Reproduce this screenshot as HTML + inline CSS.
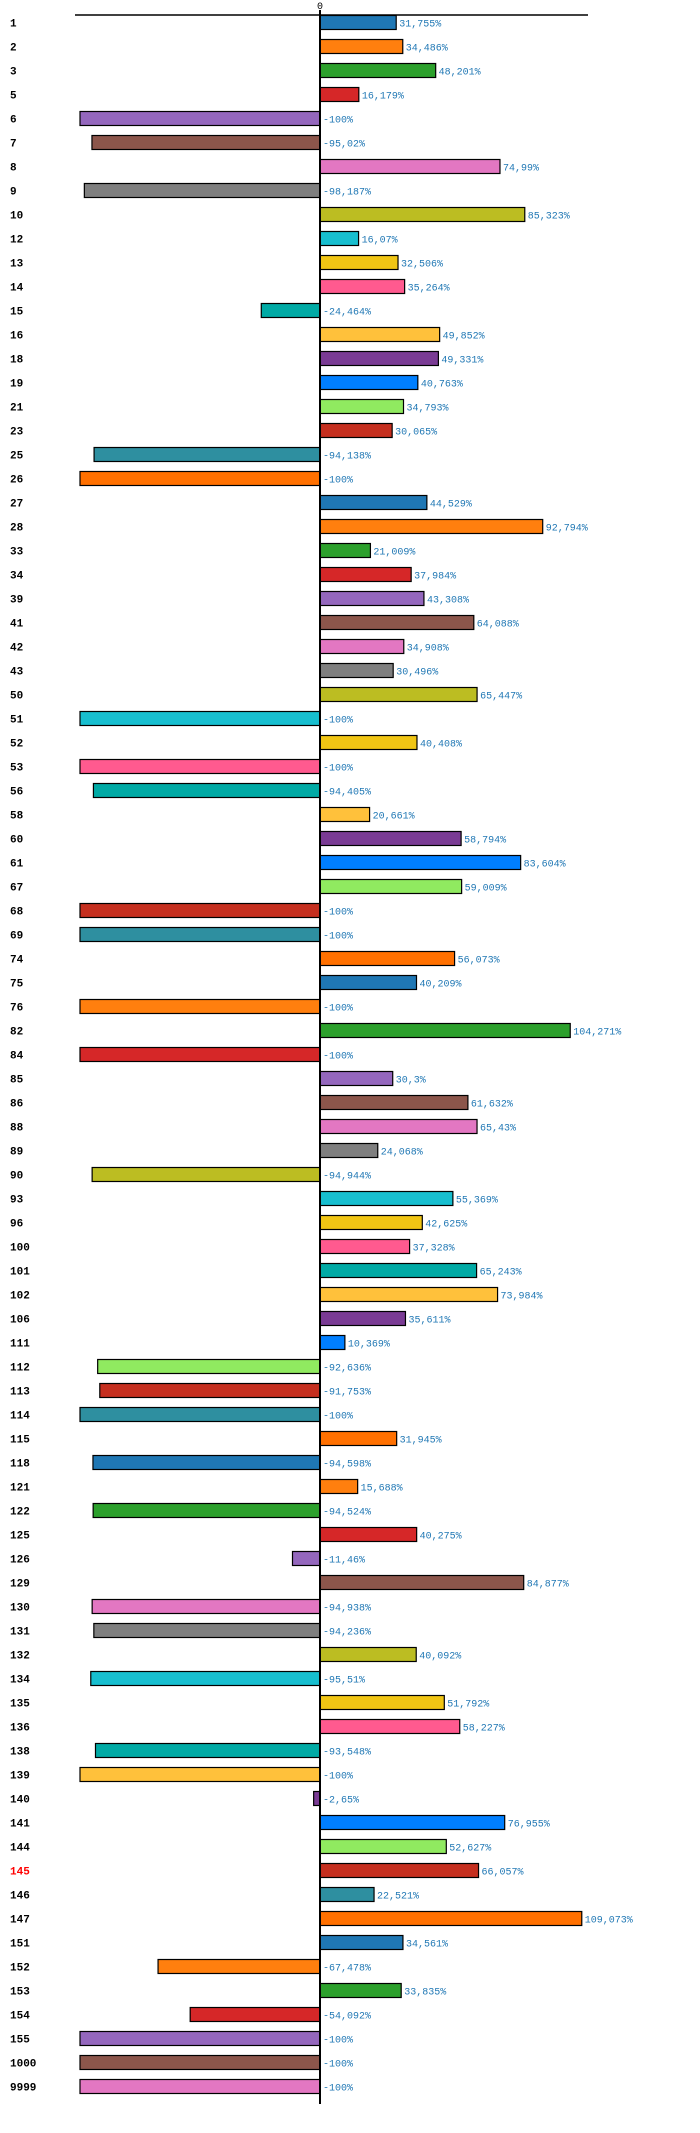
<!DOCTYPE html>
<html><head><meta charset="utf-8">
<style>
body{margin:0;background:#fff;width:700px;height:2133px;overflow:hidden}
svg{display:block}
.cat{font-family:"Liberation Mono",monospace;font-weight:bold;font-size:11px;fill:#000}
.val{font-family:"Liberation Mono",monospace;font-size:10px;fill:#1f77b4}
</style></head><body>
<svg id="chart" width="700" height="2133" xmlns="http://www.w3.org/2000/svg"></svg>
<script>
const categories=["1","2","3","5","6","7","8","9","10","12","13","14","15","16","18","19","21","23","25","26","27","28","33","34","39","41","42","43","50","51","52","53","56","58","60","61","67","68","69","74","75","76","82","84","85","86","88","89","90","93","96","100","101","102","106","111","112","113","114","115","118","121","122","125","126","129","130","131","132","134","135","136","138","139","140","141","144","145","146","147","151","152","153","154","155","1000","9999"];
const values=[31.755,34.486,48.201,16.179,-100,-95.02,74.99,-98.187,85.323,16.07,32.506,35.264,-24.464,49.852,49.331,40.763,34.793,30.065,-94.138,-100,44.529,92.794,21.009,37.984,43.308,64.088,34.908,30.496,65.447,-100,40.408,-100,-94.405,20.661,58.794,83.604,59.009,-100,-100,56.073,40.209,-100,104.271,-100,30.3,61.632,65.43,24.068,-94.944,55.369,42.625,37.328,65.243,73.984,35.611,10.369,-92.636,-91.753,-100,31.945,-94.598,15.688,-94.524,40.275,-11.46,84.877,-94.938,-94.236,40.092,-95.51,51.792,58.227,-93.548,-100,-2.65,76.955,52.627,66.057,22.521,109.073,34.561,-67.478,33.835,-54.092,-100,-100,-100];
const palette=["#1f77b4","#ff7f0e","#2ca02c","#d62728","#9467bd","#8c564b","#e377c2","#7f7f7f","#bcbd22","#17becf","#f0c514","#ff5a8f","#00aaa5","#ffc13b","#7a3b94","#007fff","#90ea60","#c52f1f","#2e8fa0","#ff7000"];
const highlight="145";

const svg=document.getElementById('chart');
const NS="http://www.w3.org/2000/svg";
const x0=320, pxPer=2.4, top0=15.5, pitch=24, bh=14;
const xs=v=>x0+v*pxPer;
const ys=i=>top0+i*pitch;
function mk(t,a){const e=document.createElementNS(NS,t);for(const k in a)e.setAttribute(k,a[k]);svg.appendChild(e);return e;}

const ax=mk('line',{x1:75,x2:588,y1:15,y2:15,stroke:'#000','stroke-width':1.5});


const z=mk('text',{x:x0,y:9,'text-anchor':'middle',class:'val',style:'fill:#000'});
z.textContent='0';



categories.forEach((c,i)=>{
  const v=values[i];
  const y=ys(i);
  const r=mk('rect',{x:Math.min(xs(v),x0),y:y,width:Math.abs(xs(v)-x0),height:bh,fill:palette[i%palette.length],stroke:'#000','stroke-width':1.2});
  
  
  const l=mk('text',{x:10,y:y+11,class:'cat'});
  if(c===highlight) l.setAttribute('style','fill:#f00');
  l.textContent=c;
  
  
  const t=mk('text',{x:(v>0?xs(v):x0)+3,y:y+11,class:'val'});
  t.textContent=String(v).replace('.',',')+'%';
  
  
});
const vx=mk('line',{x1:x0,x2:x0,y1:10,y2:2104,stroke:'#000','stroke-width':2});


</script>
</body></html>
